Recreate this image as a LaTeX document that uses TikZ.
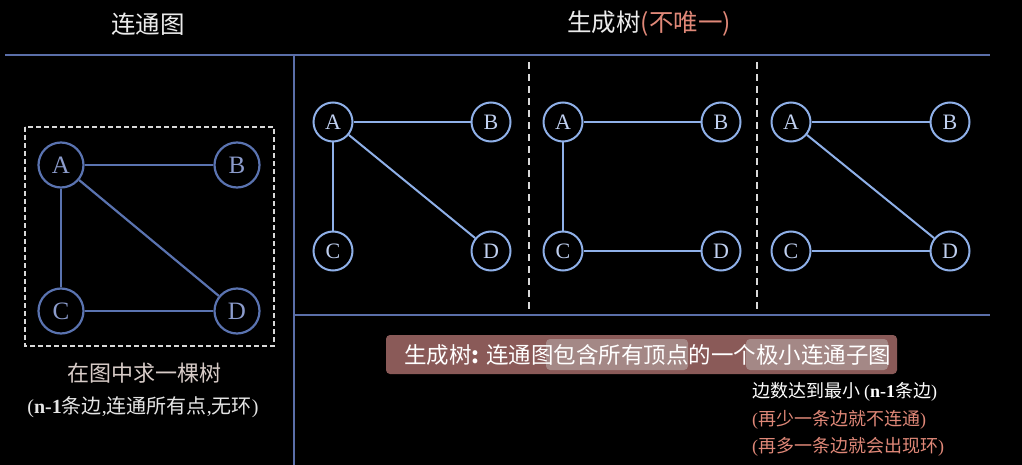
\documentclass[tikz,border=0pt]{standalone}
\usepackage{fontspec}
\setmainfont{Liberation Serif}
\newfontfamily\cjk{Noto Sans CJK SC}
\definecolor{bgc}{HTML}{000000}
\definecolor{sep}{HTML}{5A6EA8}
\definecolor{lnode}{HTML}{5A73B0}
\definecolor{ltext}{HTML}{8C9CCC}
\definecolor{rnode}{HTML}{8FB0E8}
\definecolor{rtext}{HTML}{C0D0F0}
\definecolor{pinkt}{HTML}{E08878}
\definecolor{boxc}{HTML}{8A5A58}
\definecolor{hlc}{HTML}{A48886}
\definecolor{greyt}{HTML}{D8CCC8}
\begin{document}
\begin{tikzpicture}[x=1pt,y=-1pt,
  lv/.style={circle,draw=lnode,line width=2.2pt,fill=black,minimum size=45pt,inner sep=0pt,text=ltext,font=\fontsize{25}{25}\selectfont},
  rv/.style={circle,draw=rnode,line width=2pt,fill=black,minimum size=39pt,inner sep=0pt,text=rtext,font=\fontsize{22}{22}\selectfont},
  le/.style={draw=lnode,line width=2.2pt},
  re/.style={draw=rnode,line width=2pt},
  sepl/.style={draw=sep,line width=2.5pt},
  dsh/.style={draw=white!85!black,line width=1.5pt,dash pattern=on 7pt off 5pt},
  ttl/.style={text=white!92!black,font=\cjk\fontsize{24.5}{24.5}\selectfont},
  small/.style={anchor=west,inner sep=0pt,font=\cjk\fontsize{18}{18}\selectfont}]
\fill[bgc] (0,0) rectangle (1022,465);
\useasboundingbox (0,0) rectangle (1022,465);
% titles
\node[ttl] (t1) at (148,24) {连通图};
\node[ttl] (t2) at (649,24) {生成树\textcolor{pinkt}{(不唯一)}};
% separators
\coordinate (h1a) at (5,55); \coordinate (h1b) at (990,55);
\coordinate (v1a) at (294,55); \coordinate (v1b) at (294,465);
\coordinate (h2a) at (294,315); \coordinate (h2b) at (990,315);
\draw[sepl] (h1a) -- (h1b);
\draw[sepl] (v1a) -- (v1b);
\draw[sepl] (h2a) -- (h2b);
\coordinate (d1a) at (529,62); \coordinate (d1b) at (529,312);
\coordinate (d2a) at (757,62); \coordinate (d2b) at (757,312);
\draw[dsh] (d1a) -- (d1b);
\draw[dsh] (d2a) -- (d2b);
% left graph
\coordinate (r1) at (25,127); \coordinate (r2) at (274,346);
\draw[dsh,line width=1.3pt,dash pattern=on 5pt off 3pt] (r1) rectangle (r2);
\node[lv] (LA) at (61,165) {A};
\node[lv] (LB) at (237,165) {B};
\node[lv] (LC) at (61,311) {C};
\node[lv] (LD) at (237,311) {D};
\draw[le] (LA) -- (LB);
\draw[le] (LA) -- (LC);
\draw[le] (LA) -- (LD);
\draw[le] (LC) -- (LD);
\node[text=greyt,font=\cjk\fontsize{22}{22}\selectfont] (cap1) at (144,373) {在图中求一棵树};
\node[text=white!90!black,font=\fontsize{20}{20}\selectfont] (cap2) at (143,407) {(\textbf{n-1}{\cjk 条边},{\cjk 连通所有点},{\cjk 无环})};
% tree 1
\node[rv] (A1) at (333,122) {A};
\node[rv] (B1) at (491,122) {B};
\node[rv] (C1) at (333,251) {C};
\node[rv] (D1) at (491,251) {D};
\draw[re] (A1) -- (B1);
\draw[re] (A1) -- (C1);
\draw[re] (A1) -- (D1);
% tree 2
\node[rv] (A2) at (563,122) {A};
\node[rv] (B2) at (721,122) {B};
\node[rv] (C2) at (563,251) {C};
\node[rv] (D2) at (721,251) {D};
\draw[re] (A2) -- (B2);
\draw[re] (A2) -- (C2);
\draw[re] (C2) -- (D2);
% tree 3
\node[rv] (A3) at (791,122) {A};
\node[rv] (B3) at (950,122) {B};
\node[rv] (C3) at (791,251) {C};
\node[rv] (D3) at (950,251) {D};
\draw[re] (A3) -- (B3);
\draw[re] (A3) -- (D3);
\draw[re] (C3) -- (D3);
% definition box
\coordinate (b1) at (386,335); \coordinate (b2) at (897,374);
\fill[boxc,rounded corners=4pt] (b1) rectangle (b2);
\coordinate (hl1) at (546,339); \coordinate (hl2) at (688,370);
\coordinate (hl3) at (746,339); \coordinate (hl4) at (888,370);
\fill[hlc,rounded corners=4pt] (hl1) rectangle (hl2);
\fill[hlc,rounded corners=4pt] (hl3) rectangle (hl4);
\node[anchor=west,text=white,font=\cjk\fontsize{22.5}{22.5}\selectfont,inner sep=0pt] (def) at (404,355) {生成树\textbf{:} 连通图包含所有顶点的一个极小连通子图};
\node[small,text=white] (l1) at (752,392) {边数达到最小 {\rmfamily(\textbf{n-1}}条边{\rmfamily)}};
\node[small,text=pinkt] (l2) at (752,420) {{\rmfamily(}再少一条边就不连通{\rmfamily)}};
\node[small,text=pinkt] (l3) at (752,447) {{\rmfamily(}再多一条边就会出现环{\rmfamily)}};
\end{tikzpicture}
\end{document}
